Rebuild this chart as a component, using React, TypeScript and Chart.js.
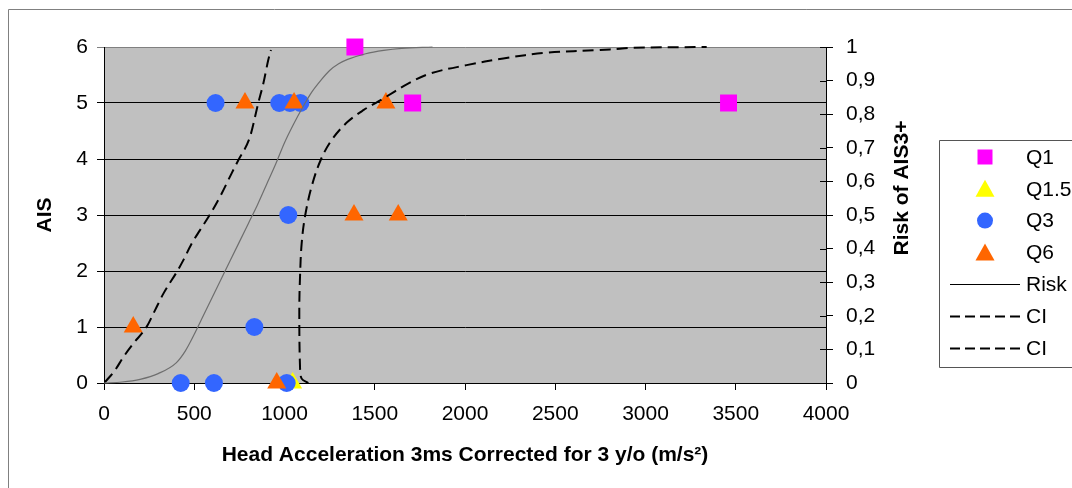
import React, { useEffect, useRef } from 'react';
import { Chart, registerables } from 'chart.js';

Chart.register(...registerables);

// ---- data ----
const q1 = [
  { x: 1390, y: 6 },
  { x: 1710, y: 5 },
  { x: 3460, y: 5 },
];
const q15 = [{ x: 1045, y: 0 }];
const q3 = [
  { x: 618, y: 5 },
  { x: 971, y: 5 },
  { x: 1030, y: 5 },
  { x: 1088, y: 5 },
  { x: 1021, y: 3 },
  { x: 833, y: 1 },
  { x: 425, y: 0 },
  { x: 609, y: 0 },
  { x: 1012, y: 0 },
];
const q6 = [
  { x: 781, y: 5 },
  { x: 1053, y: 5 },
  { x: 1562, y: 5 },
  { x: 1385, y: 3 },
  { x: 1630, y: 3 },
  { x: 162, y: 1 },
  { x: 957, y: 0 },
];
const riskCurve = [
  { x: 0, y: 0 }, { x: 100, y: 0.003 }, { x: 200, y: 0.011 }, { x: 300, y: 0.028 },
  { x: 400, y: 0.06 }, { x: 450, y: 0.095 }, { x: 500, y: 0.145 }, { x: 550, y: 0.2 },
  { x: 600, y: 0.255 }, { x: 650, y: 0.31 }, { x: 700, y: 0.365 }, { x: 750, y: 0.42 },
  { x: 800, y: 0.475 }, { x: 850, y: 0.53 }, { x: 900, y: 0.59 }, { x: 950, y: 0.65 },
  { x: 1000, y: 0.715 }, { x: 1050, y: 0.77 }, { x: 1100, y: 0.82 }, { x: 1150, y: 0.865 },
  { x: 1200, y: 0.9 }, { x: 1250, y: 0.93 }, { x: 1300, y: 0.95 }, { x: 1350, y: 0.963 },
  { x: 1450, y: 0.98 }, { x: 1550, y: 0.99 }, { x: 1650, y: 0.996 }, { x: 1820, y: 1.0 },
];
const ciLow = [
  { x: 6, y: 0.003 }, { x: 61, y: 0.038 }, { x: 107, y: 0.077 }, { x: 162, y: 0.117 },
  { x: 236, y: 0.167 }, { x: 283, y: 0.217 }, { x: 329, y: 0.266 }, { x: 406, y: 0.333 },
  { x: 439, y: 0.365 }, { x: 486, y: 0.415 }, { x: 532, y: 0.455 }, { x: 591, y: 0.505 },
  { x: 652, y: 0.564 }, { x: 707, y: 0.624 }, { x: 744, y: 0.663 }, { x: 809, y: 0.733 },
  { x: 855, y: 0.834 }, { x: 883, y: 0.892 }, { x: 910, y: 0.961 }, { x: 925, y: 0.991 },
];
const ciHigh = [
  { x: 1132, y: 0 }, { x: 1095, y: 0.013 }, { x: 1086, y: 0.048 }, { x: 1082, y: 0.217 },
  { x: 1086, y: 0.316 }, { x: 1095, y: 0.415 }, { x: 1114, y: 0.497 }, { x: 1150, y: 0.584 },
  { x: 1200, y: 0.663 }, { x: 1261, y: 0.723 }, { x: 1345, y: 0.775 }, { x: 1437, y: 0.812 },
  { x: 1520, y: 0.838 }, { x: 1603, y: 0.865 }, { x: 1677, y: 0.889 }, { x: 1806, y: 0.921 },
  { x: 2009, y: 0.946 }, { x: 2212, y: 0.966 }, { x: 2453, y: 0.983 },
  { x: 2748, y: 0.991 }, { x: 2859, y: 0.995 }, { x: 2931, y: 0.998 }, { x: 3339, y: 1.0 },
];

const xTitle = 'Head Acceleration 3ms Corrected for 3 y/o (m/s²)';
const yTitle = 'AIS';
const y2Title = 'Risk of AIS3+';

const FONT = "'Liberation Sans', Arial, sans-serif";

const COLORS = {
  q1: '#ff00ff',
  q15: '#ffff00',
  q3: '#3366ff',
  q6: '#ff6600',
};

const decorPlugin = {
  id: 'decor',
  beforeDraw(chart: any) {
    const { ctx, chartArea: a } = chart;
    ctx.save();
    ctx.fillStyle = '#ffffff';
    ctx.fillRect(0, 0, chart.width, chart.height);
    ctx.fillStyle = '#c0c0c0';
    ctx.fillRect(a.left, a.top, a.right - a.left, a.bottom - a.top);
    ctx.restore();
  },
  afterDraw(chart: any) {
    const { ctx, chartArea: a } = chart;
    ctx.save();
    // outer frame (left and top edges visible)
    ctx.strokeStyle = '#808080';
    ctx.lineWidth = 1;
    ctx.beginPath();
    ctx.moveTo(8.5, chart.height + 5);
    ctx.lineTo(8.5, 9.5);
    ctx.lineTo(chart.width + 5, 9.5);
    ctx.stroke();

    // inner tick halves for right axis
    const y2 = chart.scales.y2;
    ctx.strokeStyle = '#000';
    y2.ticks.forEach((t: any) => {
      const py = Math.round(y2.getPixelForValue(t.value)) + 0.5;
      ctx.beginPath();
      ctx.moveTo(a.right - 6, py);
      ctx.lineTo(a.right, py);
      ctx.stroke();
    });

    // titles
    ctx.fillStyle = '#000';
    ctx.font = `bold 21px ${FONT}`;
    ctx.textAlign = 'center';
    ctx.textBaseline = 'middle';
    ctx.fillText(xTitle, (a.left + a.right) / 2, 455);
    ctx.save();
    ctx.translate(45, (a.top + a.bottom) / 2);
    ctx.rotate(-Math.PI / 2);
    ctx.fillText(yTitle, 0, 0);
    ctx.restore();
    ctx.save();
    ctx.translate(902, 188);
    ctx.rotate(-Math.PI / 2);
    ctx.fillText(y2Title, 0, 0);
    ctx.restore();

    // legend frame (open on the right, clipped by the page edge)
    ctx.strokeStyle = '#555';
    ctx.lineWidth = 1;
    ctx.beginPath();
    ctx.moveTo(chart.width + 5, 140.5);
    ctx.lineTo(939.5, 140.5);
    ctx.lineTo(939.5, 367.5);
    ctx.lineTo(chart.width + 5, 367.5);
    ctx.stroke();
    const rowY0 = 157;
    const rowH = 31.8;
    const mx = 985;
    const tx = 1026;
    chart.data.datasets.forEach((ds: any, i: number) => {
      const y = rowY0 + i * rowH;
      ctx.fillStyle = '#000';
      ctx.font = `21px ${FONT}`;
      ctx.textAlign = 'left';
      ctx.textBaseline = 'middle';
      ctx.fillText(ds.label, tx, y + 1);
      if (ds.showLine) {
        ctx.save();
        ctx.strokeStyle = '#000';
        ctx.lineWidth = ds.borderDash ? 2 : 1;
        ctx.setLineDash(ds.borderDash ? [10, 5] : []);
        ctx.beginPath();
        ctx.moveTo(950, Math.round(y) + 0.5);
        ctx.lineTo(1020, Math.round(y) + 0.5);
        ctx.stroke();
        ctx.restore();
      } else {
        ctx.fillStyle = ds.backgroundColor;
        ctx.beginPath();
        if (ds.pointStyle === 'rect') {
          ctx.rect(mx - 7.5, y - 7.5, 15, 15);
        } else if (ds.pointStyle === 'circle') {
          ctx.arc(mx, y, 8, 0, Math.PI * 2);
        } else {
          ctx.moveTo(mx, y - 9);
          ctx.lineTo(mx + 9.5, y + 8);
          ctx.lineTo(mx - 9.5, y + 8);
          ctx.closePath();
        }
        ctx.fill();
      }
    });
    ctx.restore();
  },
};

const fmtRisk = (v: number) => {
  if (Math.abs(v) < 1e-9) return '0';
  if (Math.abs(v - 1) < 1e-9) return '1';
  return v.toFixed(1).replace('.', ',');
};

export default function App() {
  const ref = useRef<HTMLCanvasElement | null>(null);

  useEffect(() => {
    if (!ref.current) return;
    const pointDs = (label: string, data: any[], color: string, style: string, radius: number, order: number) => ({
      label,
      data,
      yAxisID: 'y',
      backgroundColor: color,
      borderColor: color,
      pointStyle: style,
      pointRadius: radius,
      pointHoverRadius: radius,
      pointBorderWidth: 0,
      showLine: false,
      clip: false,
      order,
    });
    const lineDs = (label: string, data: any[], color: string, width: number, dash: number[] | undefined, order: number, monotone: boolean) => ({
      label,
      data,
      yAxisID: 'y2',
      borderColor: color,
      backgroundColor: color,
      borderWidth: width,
      borderDash: dash,
      pointRadius: 0,
      pointHoverRadius: 0,
      showLine: true,
      fill: false,
      tension: 0.35,
      cubicInterpolationMode: monotone ? 'monotone' : 'default',
      clip: false,
      order,
    });

    const chart = new Chart(ref.current, {
      type: 'scatter',
      data: {
        datasets: [
          pointDs('Q1', q1, COLORS.q1, 'rect', 12, 7),
          pointDs('Q1.5', q15, COLORS.q15, 'triangle', 11, 6),
          pointDs('Q3', q3, COLORS.q3, 'circle', 9, 5),
          pointDs('Q6', q6, COLORS.q6, 'triangle', 11, 4),
          lineDs('Risk', riskCurve, '#6e6e6e', 1.2, undefined, 2, true),
          lineDs('CI', ciLow, '#000000', 2, [11, 6], 1, true),
          lineDs('CI', ciHigh, '#000000', 2, [11, 6], 0, false),
        ] as any,
      },
      options: {
        animation: false,
        responsive: true,
        maintainAspectRatio: false,
        events: [],
        layout: { padding: { left: 0, top: 47, right: 186, bottom: 45 } },
        plugins: {
          legend: { display: false },
          tooltip: { enabled: false },
          title: { display: false },
        },
        scales: {
          x: {
            type: 'linear',
            position: 'bottom',
            min: 0,
            max: 4000,
            afterFit: (s: any) => { s.height = 60; },
            ticks: {
              stepSize: 500,
              autoSkip: false,
              maxRotation: 0,
              padding: 12,
              color: '#000',
              font: { family: FONT, size: 21 },
              callback: (v: any) => String(v),
            },
            grid: {
              drawOnChartArea: false,
              drawTicks: true,
              tickLength: 7,
              color: '#000',
            },
            border: { display: true, color: '#000', width: 1 },
            title: { display: false },
          },
          y: {
            type: 'linear',
            position: 'left',
            min: 0,
            max: 6,
            afterFit: (s: any) => { s.width = 104; },
            ticks: {
              stepSize: 1,
              padding: 9,
              color: '#000',
              font: { family: FONT, size: 21 },
              callback: (v: any) => String(v),
            },
            grid: {
              drawOnChartArea: true,
              drawTicks: true,
              tickLength: 7,
              color: (c: any) => (c.tick && c.tick.value === 6 ? '#808080' : '#000'),
            },
            border: { display: true, color: '#000', width: 1 },
            title: { display: false },
          },
          y2: {
            type: 'linear',
            position: 'right',
            min: 0,
            max: 1,
            afterFit: (s: any) => { s.width = 60; },
            ticks: {
              stepSize: 0.1,
              padding: 13,
              color: '#000',
              font: { family: FONT, size: 21 },
              callback: (v: any) => fmtRisk(Number(v)),
            },
            grid: {
              drawOnChartArea: false,
              drawTicks: true,
              tickLength: 7,
              color: '#000',
            },
            border: { display: true, color: '#000', width: 1 },
            title: { display: false },
          },
        },
      } as any,
      plugins: [decorPlugin],
    });
    return () => chart.destroy();
  }, []);

  return (
    <div style={{ position: 'fixed', left: 0, top: 0, width: 1072, height: 488, overflow: 'hidden', background: '#fff' }}>
      <canvas ref={ref} />
    </div>
  );
}
